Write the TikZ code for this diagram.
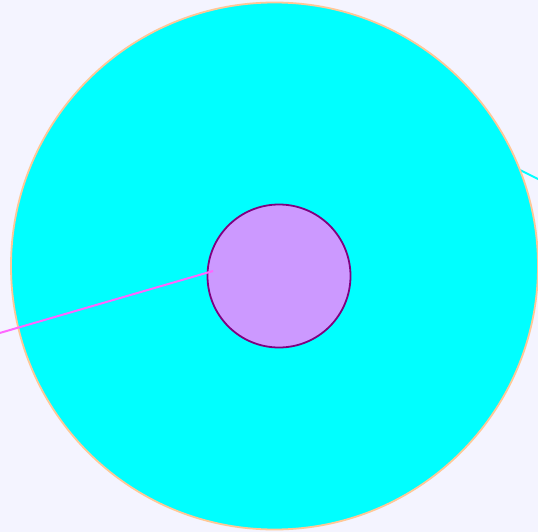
\documentclass[tikz,border=0pt]{standalone}
\usepackage{xcolor}
\usepackage{tikz}
\usetikzlibrary{calc}
\definecolor{paper}{HTML}{F4F4FF}
\definecolor{aqua}{HTML}{00FFFF}
\definecolor{peach}{HTML}{FFC896}
\definecolor{lilac}{HTML}{CC99FF}
\definecolor{plum}{HTML}{800080}
\definecolor{pinkline}{HTML}{FF66FF}

\begin{document}
\begin{tikzpicture}[x=1pt,y=-1pt]
  \fill[paper] (0,0) rectangle (538,532);
  \useasboundingbox (0,0) rectangle (538,532);
  % spokes
  \coordinate (tailR) at (518,169);
  \coordinate (endR) at (540,180);
  \coordinate (endL) at (-2,333.5);
  \coordinate (tipL) at (213,271);
  \draw[aqua,line width=2pt] (tailR) -- (endR);
  % discs
  \node[circle,draw=peach,fill=aqua,line width=1.8pt,minimum size=527pt,inner sep=0pt] (outer) at (274.5,266) {};
  \node[circle,draw=plum,fill=lilac,line width=1.8pt,minimum size=143pt,inner sep=0pt] (inner) at (279,276) {};
  \draw[pinkline,line width=2pt] (endL) -- (tipL);
\end{tikzpicture}
\end{document}
